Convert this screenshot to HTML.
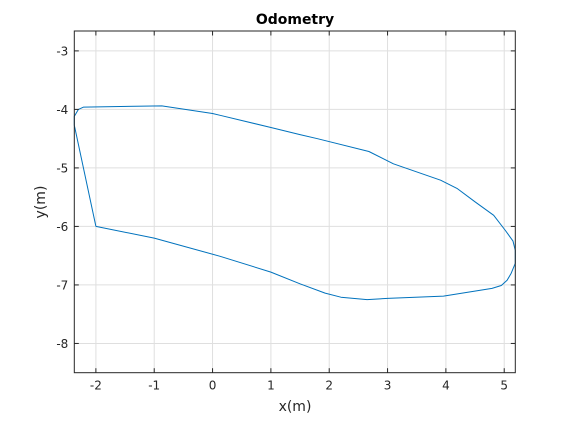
<!DOCTYPE html>
<html><head><meta charset="utf-8"><style>
body{margin:0;background:#fff;}
svg text{font-family:"DejaVu Sans","Liberation Sans",sans-serif;fill:#262626;}
</style></head><body>
<svg id="chart" width="570" height="420" xmlns="http://www.w3.org/2000/svg">
<rect x="0" y="0" width="570" height="420" fill="#fff"/>
<g id="grid"></g>
<g id="series"></g>
<rect x="74.3" y="31" width="441" height="341.7" fill="none" stroke="#262626" stroke-width="1"/>
<g id="ticks"></g>
<text x="295" y="24" text-anchor="middle" font-size="14" font-weight="bold" style="fill:#000">Odometry</text>
<text x="295" y="411" text-anchor="middle" font-size="14">x(m)</text>
<text x="45" y="202" text-anchor="middle" font-size="14" transform="rotate(-90 45 202)">y(m)</text>
</svg>
<script>
const xTicks=[-2,-1,0,1,2,3,4,5];
const yTicks=[-3,-4,-5,-6,-7,-8];
const pathX=[-2,-2.37,-2.37,-2.3,-2.21,-0.87,0.0,0.13,1.0,1.5,1.8,2.68,3.1,3.91,4.19,4.5,4.82,5.02,5.15,5.19,5.19,5.12,5.05,4.95,4.79,3.96,3.0,2.65,2.2,1.93,1.5,1.0,0.13,-1.0,-2.0];
const pathY=[-6.0,-4.27,-4.12,-4.0,-3.96,-3.94,-4.07,-4.10,-4.31,-4.43,-4.5,-4.72,-4.93,-5.21,-5.35,-5.58,-5.81,-6.07,-6.25,-6.41,-6.63,-6.8,-6.92,-7.01,-7.06,-7.19,-7.23,-7.25,-7.21,-7.14,-6.98,-6.78,-6.51,-6.2,-6.0];
const X0=74.3,X1=515.3,Y0=31,Y1=372.7,xmin=-2.37,xmax=5.19,ymin=-8.5,ymax=-2.66;
const sx=v=>X0+(v-xmin)/(xmax-xmin)*(X1-X0);
const sy=v=>Y1-(v-ymin)/(ymax-ymin)*(Y1-Y0);
const NS='http://www.w3.org/2000/svg';
const grid=document.getElementById('grid'),ticks=document.getElementById('ticks'),series=document.getElementById('series');
function mk(t,a,p){const e=document.createElementNS(NS,t);for(const k in a)e.setAttribute(k,a[k]);p.appendChild(e);return e;}
xTicks.forEach(v=>{const x=sx(v);
 const g=mk('line',{x1:x,x2:x,y1:Y0,y2:Y1,stroke:'#dfdfdf','stroke-width':1},grid);
 
 
 const t1=mk('line',{x1:x,x2:x,y1:Y1,y2:Y1-4.5,stroke:'#262626'},ticks);
 
 
 const t2=mk('line',{x1:x,x2:x,y1:Y0,y2:Y0+4.5,stroke:'#262626'},ticks);
 
 
 const l=mk('text',{x:x,y:Y1+17,'text-anchor':'middle','font-size':12},ticks);l.textContent=v;
 
 
});
yTicks.forEach(v=>{const y=sy(v);
 const g=mk('line',{x1:X0,x2:X1,y1:y,y2:y,stroke:'#dfdfdf','stroke-width':1},grid);
 
 
 const t1=mk('line',{x1:X0,x2:X0+4.5,y1:y,y2:y,stroke:'#262626'},ticks);
 
 
 const t2=mk('line',{x1:X1,x2:X1-4.5,y1:y,y2:y,stroke:'#262626'},ticks);
 
 
 const l=mk('text',{x:X0-6,y:y+4.5,'text-anchor':'end','font-size':12},ticks);l.textContent=v;
 
 
});
const pts=pathX.map((v,i)=>sx(v).toFixed(1)+','+sy(pathY[i]).toFixed(1)).join(' ');
const pl=mk('polyline',{points:pts,fill:'none',stroke:'#0072bd','stroke-width':1,'stroke-linejoin':'round'},series);


</script>
</body></html>
